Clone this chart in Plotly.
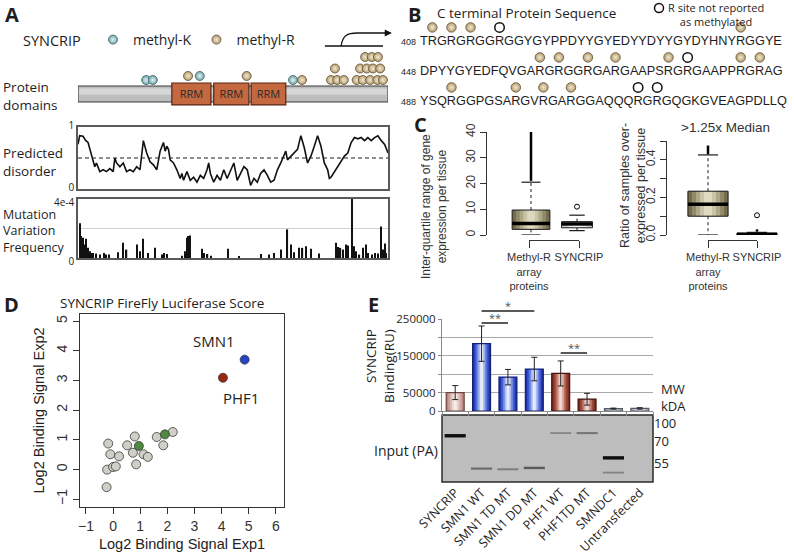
import plotly.graph_objects as go

W, H = 794, 554
def fx(p): return p / W
def fy(p): return 1 - p / H
def dom_x(a, b): return [fx(a), fx(b)]
def dom_y(top, bottom): return [fy(bottom), fy(top)]

SANS = "Open Sans"
ARIAL = "Liberation Sans"
INK = "#1e1e1e"

# ---------------- Panel A data ----------------
protein_length = 555
rrm_names = ["RRM", "RRM", "RRM"]
rrm_start = [168, 243, 310]
rrm_end = [238, 306, 372]
methylK_res = [122, 134, 218, 385]
methylK_level = [0, 0, 0.35, 0]
methylR_res = [197, 302, 401, 453, 464, 476, 460, 499, 510, 523, 536, 546,
               505, 517, 528, 541, 514, 526, 537]
methylR_level = [0.35, 0.35, 0, 0, 0, 0, 1, 0, 0, 0, 0, 0, 1, 1, 1, 1, 2, 2, 2]

dis_res = [0, 3, 9, 14, 18, 21, 24, 27, 30, 33, 36, 39,
           45, 51, 57, 63, 66, 69, 75, 81, 87, 93, 99, 105, 111,
           114, 117,
           123, 129, 135, 141, 147, 153,
           156, 159, 162, 165,
           171, 177, 183,
           186, 189,
           195, 201, 207, 213, 219, 225, 231,
           234,
           237, 243, 249, 255, 261, 267, 273, 279, 285, 291, 297, 303, 309, 315, 321,
           327, 333, 339, 345, 351, 357, 363, 369,
           372,
           375, 381, 387, 393, 399, 405, 411, 417, 423, 429, 435, 441, 447,
           450,
           453, 459, 465, 471, 477, 483, 489, 495, 501, 507, 513, 519, 525, 531, 537,
           543, 549, 555]
dis_val = [0.72, 0.86, 0.85, 0.78, 0.75, 0.64, 0.53, 0.44, 0.36, 0.42, 0.33, 0.28,
           0.31, 0.28, 0.33, 0.28, 0.50, 0.42, 0.36, 0.42, 0.28, 0.31, 0.28, 0.36, 0.31,
           0.53, 0.78,
           0.58, 0.44, 0.39, 0.31, 0.61, 0.75,
           0.61, 0.69, 0.64, 0.47,
           0.42, 0.31, 0.17,
           0.25, 0.14,
           0.28, 0.14, 0.19, 0.11, 0.22, 0.17, 0.31,
           0.42,
           0.25, 0.11, 0.22, 0.14, 0.31, 0.17, 0.31, 0.42, 0.14, 0.25, 0.36, 0.31, 0.06,
           0.17, 0.11, 0.25, 0.31, 0.22, 0.11, 0.14, 0.31, 0.42, 0.53,
           0.61,
           0.47, 0.53, 0.58, 0.64, 0.86, 0.67, 0.42, 0.53, 0.69, 0.86, 0.69, 0.42, 0.31,
           0.17,
           0.19, 0.28, 0.36, 0.44, 0.53, 0.58, 0.75, 0.83, 0.81, 0.83, 0.78, 0.83, 0.78,
           0.83, 0.86, 0.78, 0.72, 0.58]
disorder_threshold = 0.5

mut_res = [3, 6, 9, 12, 15, 18, 21, 24, 27, 33, 39, 46, 50, 56, 72, 81, 87, 106, 111, 117,
           126, 138, 150, 154, 159, 186, 192, 195, 198, 201, 222, 226, 232, 238, 268, 288,
           328, 342, 351, 363, 375, 381, 387, 395, 402, 408, 417, 432, 462, 465, 470, 474,
           480, 483, 490, 494, 498, 504, 510, 516, 519, 526, 532, 537, 543, 546, 549, 552]
mut_freq_e4 = [2.35, 1.49, 1.37, 0.91, 1.30, 0.69, 0.46, 0.34, 0.34, 0.30, 0.23, 0.34, 0.23,
               0.23, 0.39, 1.03, 0.57, 0.91, 0.46, 1.30, 0.34, 0.69, 0.23, 0.34, 0.27, 0.16,
               0.46, 1.37, 1.49, 1.53, 0.62, 0.34, 0.27, 0.16, 0.62, 0.11, 0.27, 0.23, 0.34,
               0.57, 1.94, 0.91, 0.39, 0.69, 0.69, 0.80, 0.62, 0.30, 1.03, 0.75, 0.69, 0.57,
               0.91, 0.85, 4.0, 0.80, 0.46, 0.23, 0.69, 0.91, 0.34, 0.23, 0.34, 0.30, 2.13,
               0.57, 0.98, 0.34]

# ---------------- Panel B data ----------------
seq_lines = ["TRGRGRGGRGGYGYPPDYYGYEDYYDYYGYDYHNYRGGYE",
             "DPYYGYEDFQVGARGRGGRGARGAAPSRGRGAAPPRGRAG",
             "YSQRGGPGSARGVRGARGGAQQQRGRGQGKGVEAGPDLLQ"]
seq_start = [408, 448, 488]
seq_methylated = [[2, 4, 6, 36], [14, 16, 19, 22, 28, 36, 38], [4, 11, 14, 17]]
seq_unreported = [[9], [30], [24, 26]]

# ---------------- Panel C data ----------------
c_groups = ["Methyl-R<br>array<br>proteins", "SYNCRIP"]
iqr_q1 = [2.2, 2.8]
iqr_med = [4.5, 4.3]
iqr_q3 = [9.7, 5.2]
iqr_lo = [0.0, 1.7]
iqr_hi = [20.5, 7.7]
iqr_outlier_span = [(21.0, 40.0), None]
iqr_outlier_pts = [[], [11.0]]
ratio_q1 = [0.100, 0.000]
ratio_med = [0.164, 0.004]
ratio_q3 = [0.233, 0.009]
ratio_lo = [0.000, 0.000]
ratio_hi = [0.426, 0.014]
ratio_outlier_span = [(0.43, 0.476), (0.018, 0.030)]
ratio_outlier_pts = [[], [0.105]]

# ---------------- Panel D data ----------------
d_gray_x = [-0.18, -0.10, 0.22, -0.22, 0.0, 0.10, -0.24, 0.52, 0.80, 0.73, 0.85, 1.12,
            1.28, 1.61, 1.85, 2.20]
d_gray_y = [0.87, 0.51, 0.44, -0.01, 0.08, 0.10, -0.60, 0.81, 1.11, 0.56, 0.17, 0.51,
            0.42, 1.09, 0.81, 1.26]
d_green_x = [0.95, 1.91]
d_green_y = [0.79, 1.18]
d_named = ["SMN1", "PHF1"]
d_named_x = [4.85, 4.05]
d_named_y = [3.70, 3.09]

# ---------------- Panel E data ----------------
lanes = ["SYNCRIP", "SMN1 WT", "SMN1 TD MT", "SMN1 DD MT", "PHF1 WT", "PHF1TD MT",
         "SMNDC1", "Untransfected"]
binding_mean = [50000, 183000, 92000, 114000, 102000, 32000, 6400, 7000]
binding_err = [19000, 48000, 21000, 32000, 34000, 16000, 1500, 2000]
lane_group = ["pink", "blue", "blue", "blue", "brown", "brown", "gray", "gray"]
sig_pairs = [(1, 2, "**"), (1, 3, "*"), (4, 5, "**")]
mw_labels = ["100", "70", "55"]
mw_pos = [0.12, 0.39, 0.73]
band_lane = [0, 1, 2, 3, 4, 5, 6, 6]
band_pos = [0.31, 0.80, 0.81, 0.79, 0.27, 0.27, 0.64, 0.86]
band_strength = [1.0, 0.45, 0.35, 0.55, 0.3, 0.4, 1.0, 0.3]

fig = go.Figure()
NOH = dict(showlegend=False, hoverinfo="skip")

# ======== Panel A ========
PROT_Y = -1.217
fig.add_trace(go.Bar(orientation="h", y=[PROT_Y], x=[protein_length], base=[0], width=1.39,
                     marker=dict(color="#bdbdbd", line=dict(color="#3a3a3a", width=1)),
                     xaxis="x", yaxis="y", **NOH))
fig.add_trace(go.Bar(orientation="h", y=[PROT_Y + 0.2], x=[protein_length - 4], base=[2],
                     width=0.55, marker=dict(color="#d6d6d6", line=dict(width=0)),
                     xaxis="x", yaxis="y", **NOH))
fig.add_trace(go.Bar(orientation="h", y=[PROT_Y] * 3,
                     x=[e - s for s, e in zip(rrm_start, rrm_end)], base=rrm_start,
                     width=1.91, text=rrm_names, textposition="inside",
                     insidetextanchor="middle", constraintext="none",
                     textfont=dict(family=SANS, size=11, color="#2b2b2b"),
                     marker=dict(color="#c4683f", line=dict(color="#5a2512", width=1.2)),
                     xaxis="x", yaxis="y", **NOH))
fig.add_trace(go.Scatter(x=methylK_res, y=methylK_level, mode="markers", name="methyl-K",
                         marker=dict(size=9, color="#6fa6ab", gradient=dict(type="radial", color="#e2f2f3"),
                                     line=dict(color="#3c5e62", width=0.8)),
                         xaxis="x", yaxis="y", legend="legend", hoverinfo="skip"))
fig.add_trace(go.Scatter(x=methylR_res, y=methylR_level, mode="markers", name="methyl-R",
                         marker=dict(size=9, color="#b59d6e", gradient=dict(type="radial", color="#f1e8d4"),
                                     line=dict(color="#5e4e30", width=0.8)),
                         xaxis="x", yaxis="y", legend="legend", hoverinfo="skip"))

fig.add_trace(go.Scatter(x=dis_res, y=dis_val, mode="lines", line=dict(color="#111", width=1.6),
                         xaxis="x2", yaxis="y2", **NOH))
fig.add_trace(go.Scatter(x=[0, protein_length], y=[disorder_threshold] * 2, mode="lines",
                         line=dict(color="#222", width=1.2, dash="4px,3px"),
                         xaxis="x2", yaxis="y2", **NOH))
fig.add_trace(go.Bar(x=mut_res, y=[v * 1e-4 for v in mut_freq_e4], width=2.2,
                     marker=dict(color="#111", line=dict(width=0)),
                     xaxis="x3", yaxis="y3", **NOH))

# ======== Panel B ========
ARIAL_W = dict(T=611, R=722, G=778, Y=667, P=667, D=722, E=667, H=722, N=722, F=611,
               Q=778, V=667, A=667, S=667, K=667, L=556)
B_LEFT, B_RIGHT = 420, 790
SEQ_SPAN_PX = 367
seq_total = max(sum(ARIAL_W[c] for c in s) for s in seq_lines)
SEQ_FONT = SEQ_SPAN_PX * 1000 / seq_total

def char_center(line, idx):
    return sum(ARIAL_W[c] for c in line[:idx - 1]) + ARIAL_W[line[idx - 1]] / 2

CIRC_UP = 0.42
mx, my, ux, uy = [], [], [], []
for i, s in enumerate(seq_lines):
    for k in seq_methylated[i]:
        mx.append(char_center(s, k)); my.append(-i + CIRC_UP)
    for k in seq_unreported[i]:
        ux.append(char_center(s, k)); uy.append(-i + CIRC_UP)
fig.add_trace(go.Scatter(x=mx, y=my, mode="markers",
                         marker=dict(size=9.5, color="#b59d6e", gradient=dict(type="radial", color="#f1e8d4"),
                                     line=dict(color="#5e4e30", width=0.8)),
                         xaxis="x4", yaxis="y4", **NOH))
fig.add_trace(go.Scatter(x=ux, y=uy, mode="markers", name="R site not reported as methylated",
                         marker=dict(size=9.5, color="white", line=dict(color="#111", width=1.5)),
                         xaxis="x4", yaxis="y4", **NOH))

# ======== Panel C ========
C_EDGE = "#1a1a1a"
olive = [(1.0, "#746d4c"), (0.8, "#918a69"), (0.6, "#aea888"), (0.4, "#c9c4a6"), (0.2, "#dedabf")]
light = [(1.0, "#cdcdcd"), (0.6, "#e6e6e6"), (0.25, "#f6f6f6")]

def add_box(xa, ya, pos, w, q1, med, q3, lo, hi, layers, span, pts):
    for frac, col in layers:
        fig.add_trace(go.Bar(x=[pos], y=[q3 - q1], base=[q1], width=w * frac,
                             marker=dict(color=col, line=dict(width=0)), xaxis=xa, yaxis=ya, **NOH))
    fig.add_trace(go.Bar(x=[pos], y=[q3 - q1], base=[q1], width=w,
                         marker=dict(color="rgba(0,0,0,0)", line=dict(color=C_EDGE, width=1)),
                         xaxis=xa, yaxis=ya, **NOH))
    fig.add_trace(go.Scatter(x=[pos, pos, None, pos, pos], y=[q3, hi, None, q1, lo], mode="lines",
                             line=dict(color=C_EDGE, width=1, dash="3px,3px"),
                             xaxis=xa, yaxis=ya, **NOH))
    fig.add_trace(go.Scatter(x=[pos - w / 4, pos + w / 4, None, pos - w / 4, pos + w / 4],
                             y=[hi, hi, None, lo, lo], mode="lines",
                             line=dict(color=C_EDGE, width=1.2), xaxis=xa, yaxis=ya, **NOH))
    fig.add_trace(go.Scatter(x=[pos - w / 2, pos + w / 2], y=[med, med], mode="lines",
                             line=dict(color="#000", width=3.5), xaxis=xa, yaxis=ya, **NOH))
    if span:
        fig.add_trace(go.Scatter(x=[pos, pos], y=list(span), mode="lines",
                                 line=dict(color="#000", width=2.5), xaxis=xa, yaxis=ya, **NOH))
    if pts:
        fig.add_trace(go.Scatter(x=[pos] * len(pts), y=pts, mode="markers", cliponaxis=False,
                                 marker=dict(size=5, color="white", line=dict(color="#000", width=1)),
                                 xaxis=xa, yaxis=ya, **NOH))

iqr_width = [0.82, 0.67]
ratio_width = [0.82, 0.82]
iqr_layers = [olive, light]
ratio_layers = [olive, light]
for g in range(2):
    add_box("x5", "y5", g + 1, iqr_width[g], iqr_q1[g], iqr_med[g], iqr_q3[g], iqr_lo[g],
            iqr_hi[g], iqr_layers[g], iqr_outlier_span[g], iqr_outlier_pts[g])
    add_box("x7", "y7", g + 1, ratio_width[g], ratio_q1[g], ratio_med[g], ratio_q3[g],
            ratio_lo[g], ratio_hi[g], ratio_layers[g], ratio_outlier_span[g], ratio_outlier_pts[g])
# R-style bracket axes (group labels) need a trace to exist
fig.add_trace(go.Scatter(x=[None], y=[None], xaxis="x6", yaxis="y6", **NOH))
fig.add_trace(go.Scatter(x=[None], y=[None], xaxis="x8", yaxis="y8", **NOH))

# ======== Panel D ========
DOT_LINE = dict(color="#3a3a3a", width=0.8)
fig.add_trace(go.Scatter(x=d_gray_x, y=d_gray_y, mode="markers",
                         marker=dict(size=9, color="#cfcfc7", line=DOT_LINE), xaxis="x9", yaxis="y9", **NOH))
fig.add_trace(go.Scatter(x=d_green_x, y=d_green_y, mode="markers",
                         marker=dict(size=9, color="#4d8a3b", line=DOT_LINE), xaxis="x9", yaxis="y9", **NOH))
fig.add_trace(go.Scatter(x=d_named_x, y=d_named_y, mode="markers",
                         marker=dict(size=9, color=["#2444c8", "#9a2612"], line=DOT_LINE),
                         xaxis="x9", yaxis="y9", **NOH))

# ======== Panel E ========
BAR_W = 0.68
grad = {
    "blue": ["#1e32a6", "#3c58cf", "#6f87e2", "#adbcf2", "#e6ebfc"],
    "pink": ["#b58680", "#cba19b", "#ddbab5", "#ecd4d0", "#f8ecea"],
    "brown": ["#7a2a1d", "#984535", "#b86d60", "#d7a59c", "#f0d8d2"],
    "gray": ["#99a0b5", "#b4b9ca", "#cdd1dd", "#e1e4eb", "#f3f4f7"],
}
edge = {"blue": "#15207a", "pink": "#6e4440", "brown": "#461510", "gray": "#555a66"}
lane_idx = list(range(len(lanes)))
for k, frac in enumerate([1.0, 0.78, 0.56, 0.36, 0.16]):
    fig.add_trace(go.Bar(x=lane_idx, y=binding_mean, width=BAR_W * frac,
                         marker=dict(color=[grad[g][k] for g in lane_group], line=dict(width=0)),
                         xaxis="x10", yaxis="y10", **NOH))
fig.add_trace(go.Bar(x=lane_idx, y=binding_mean, width=BAR_W,
                     marker=dict(color="rgba(0,0,0,0)",
                                 line=dict(color=[edge[g] for g in lane_group], width=1.2)),
                     error_y=dict(type="data", array=binding_err, color="#222", thickness=1, width=3),
                     xaxis="x10", yaxis="y10", **NOH))

for ln, pos, st in zip(band_lane, band_pos, band_strength):
    lvl = int(185 - 170 * st)
    fig.add_trace(go.Scatter(x=[ln - 0.4, ln + 0.4], y=[pos, pos], mode="lines",
                             line=dict(color=f"rgb({lvl},{lvl},{lvl})", width=1.2 + 2.2 * st),
                             xaxis="x11", yaxis="y11", **NOH))
fig.add_trace(go.Scatter(x=[None], y=[None], xaxis="x11", yaxis="y11", **NOH))

# ---------------- layout ----------------
AX_OFF = dict(visible=False)
def frame(**kw):
    d = dict(showline=True, mirror=True, linecolor="#5a5a5a", linewidth=1.5, showgrid=False,
             zeroline=False, ticks="")
    d.update(kw)
    return d

def r_axis(**kw):
    d = dict(showline=True, linecolor="#333", linewidth=1, ticks="outside", ticklen=6,
             tickcolor="#333", showgrid=False, zeroline=False,
             tickfont=dict(family=ARIAL, size=12, color="#333"))
    d.update(kw)
    return d

# panel C geometry: y-axis line at left domain edge, group centres at given pixels
C1_AXIS, C1_POS, C1_RIGHT = 487, (531, 577), 600
C2_AXIS, C2_POS, C2_RIGHT = 667, (708, 757), 782
C1_BRACKET = (529, 579)
def c_range(axis_px, pos, right_px):
    step = pos[1] - pos[0]
    return [1 - (pos[0] - axis_px) / step, 2 + (right_px - pos[1]) / step]

GROUP_FONT = dict(family=ARIAL, size=11, color="#333")
TICK_SMALL = dict(family=SANS, size=10)

layout = dict(
    width=W, height=H, autosize=False, margin=dict(l=0, r=0, t=0, b=0, pad=0),
    paper_bgcolor="white", plot_bgcolor="rgba(0,0,0,0)", barmode="overlay", hovermode=False,
    font=dict(family=SANS, color=INK, size=13),
    xaxis=dict(domain=dom_x(78, 388), range=[0, protein_length], anchor="y", **AX_OFF),
    yaxis=dict(domain=dom_y(25, 110), range=[-2.609, 4.783], anchor="x", **AX_OFF),
    xaxis2=frame(domain=dom_x(78, 388), range=[0, protein_length], anchor="y2", showticklabels=False),
    yaxis2=frame(domain=dom_y(127, 189), range=[0, 1], anchor="x2", tickvals=[0, 1],
                 tickfont=TICK_SMALL, ticklabelshift=-2),
    xaxis3=frame(domain=dom_x(78, 388), range=[0, protein_length], anchor="y3", showticklabels=False),
    yaxis3=frame(domain=dom_y(199, 258), range=[0, 4e-4], anchor="x3", tickvals=[0, 2e-4, 4e-4],
                 ticktext=["0", "", "4e-4"], showgrid=True, gridcolor="#cfcfcf", gridwidth=1,
                 tickfont=TICK_SMALL, ticklabelshift=3),
    xaxis4=dict(domain=dom_x(B_LEFT, B_RIGHT), range=[0, (B_RIGHT - B_LEFT) * 1000 / SEQ_FONT],
                anchor="y4", **AX_OFF),
    yaxis4=dict(domain=dom_y(10, 110), range=[-2.333, 1.0], anchor="x4", **AX_OFF),
    xaxis5=dict(domain=dom_x(C1_AXIS, C1_RIGHT), range=c_range(C1_AXIS, C1_POS, C1_RIGHT),
                anchor="y5", **AX_OFF),
    yaxis5=r_axis(domain=dom_y(132, 235), range=[0, 40], anchor="x5",
                  tickvals=[0, 10, 20, 30, 40], tickangle=-90),
    xaxis6=r_axis(domain=dom_x(*C1_BRACKET), range=[1, 2], anchor="y6",
                  tickvals=[1, 2], ticktext=c_groups, ticklen=7, tickangle=0, tickfont=GROUP_FONT),
    yaxis6=dict(domain=dom_y(236, 240), range=[0, 1], anchor="x6", **AX_OFF),
    xaxis7=dict(domain=dom_x(C2_AXIS, C2_RIGHT), range=c_range(C2_AXIS, C2_POS, C2_RIGHT),
                anchor="y7", **AX_OFF),
    yaxis7=r_axis(domain=dom_y(141, 235), range=[0, 0.5], anchor="x7",
                  tickvals=[0, 0.1, 0.2, 0.3, 0.4, 0.5],
                  ticktext=["0.0", "", "0.2", "", "0.4", ""], tickangle=-90),
    xaxis8=r_axis(domain=dom_x(C2_POS[0], C2_POS[1]), range=[1, 2], anchor="y8",
                  tickvals=[1, 2], ticktext=c_groups, ticklen=7, tickangle=0, tickfont=GROUP_FONT),
    yaxis8=dict(domain=dom_y(236, 240), range=[0, 1], anchor="x8", **AX_OFF),
    xaxis9=r_axis(domain=dom_x(80, 284), range=[-1.22, 6.3], anchor="y9", mirror=True,
                  tickvals=list(range(-1, 7)), tickfont=dict(family=ARIAL, size=14, color="#333"),
                  title=dict(text="Log2 Binding Signal Exp1", font=dict(family=ARIAL, size=14.5, color="#222"),
                             standoff=6)),
    yaxis9=r_axis(domain=dom_y(314, 507), range=[-1.27, 5.24], anchor="x9", mirror=True,
                  tickvals=list(range(-1, 6)), tickangle=-90,
                  tickfont=dict(family=ARIAL, size=14, color="#333"),
                  title=dict(text="Log2 Binding Signal Exp2", font=dict(family=ARIAL, size=14.5, color="#222"),
                             standoff=6)),
    xaxis10=dict(domain=dom_x(442, 653), range=[-0.5, 7.5], anchor="y10", showline=True,
                 linecolor="#8a8a8a", ticks="outside", ticklen=4, tickcolor="#8a8a8a",
                 tickvals=[i - 0.5 for i in range(len(lanes) + 1)], showticklabels=False,
                 showgrid=False, zeroline=False),
    yaxis10=dict(domain=dom_y(319, 411), range=[0, 250000], anchor="x10", showline=True,
                 linecolor="#8a8a8a", ticks="outside", ticklen=3, tickcolor="#8a8a8a",
                 tickvals=[0, 50000, 100000, 150000, 200000, 250000],
                 ticktext=["0", "50000", "", "150000", "", "250000"],
                 showgrid=True, gridcolor="#a9a9a9", gridwidth=1, zeroline=False,
                 tickfont=dict(family=SANS, size=11.5)),
    xaxis11=dict(domain=dom_x(442, 653), range=[-0.5, 7.5], anchor="y11", tickvals=lane_idx,
                 ticktext=lanes, tickangle=-45, ticks="", showline=False, showgrid=False,
                 zeroline=False, tickfont=dict(family=SANS, size=12.5)),
    yaxis11=dict(domain=dom_y(415, 482), range=[1, 0], anchor="x11", side="right",
                 tickvals=mw_pos, ticktext=mw_labels, ticks="", showline=False, showgrid=False,
                 zeroline=False, tickfont=dict(family=SANS, size=13)),
    legend=dict(x=fx(93), y=fy(40), xanchor="left", yanchor="middle", orientation="h",
                font=dict(family=SANS, size=14, color=INK), bgcolor="rgba(0,0,0,0)",
                borderwidth=0),
)

def ann(text, x, y, size=13, family=SANS, xanchor="left", yanchor="middle", **kw):
    d = dict(text=text, x=fx(x), y=fy(y), xref="paper", yref="paper", showarrow=False,
             xanchor=xanchor, yanchor=yanchor, font=dict(family=family, size=size, color=kw.pop("color", INK)))
    d.update(kw)
    return d

annotations = [
    ann("<b>A</b>", 12, 14, 20, xanchor="center"),
    ann("<b>B</b>", 414, 14, 20, xanchor="center"),
    ann("<b>C</b>", 420, 125, 20, xanchor="center"),
    ann("<b>D</b>", 11, 304, 20, xanchor="center"),
    ann("<b>E</b>", 373, 304, 20, xanchor="center"),
    ann("SYNCRIP", 52, 40, 14.5, xanchor="center"),
    ann("Protein<br>domains", 1, 96, 13.5, align="left"),
    ann("Predicted<br>disorder", 1, 162, 13.5, align="left"),
    ann("Mutation<br>Variation<br>Frequency", 1, 231, 12.5, align="left"),
    ann("C terminal Protein Sequence", 435, 13, 13.5),
    ann("R site not reported<br>as methylated", 666, 14.5, 11, align="center"),
    ann("Inter-quartile range of gene<br>expression per tissue", 434, 207, 12, ARIAL,
        xanchor="center", textangle=-90, color="#333"),
    ann("Ratio of samples over-<br>expressed per tissue", 633, 186, 12.5, ARIAL,
        xanchor="center", textangle=-90, color="#333"),
    ann(">1.25x Median", 725, 127, 13.5, ARIAL, xanchor="center", color="#333"),
    ann("SYNCRIP FireFly Luciferase Score", 58, 303, 13.5),
    ann("SYNCRIP<br>Binding(RU)", 380, 366, 13.5, xanchor="center", textangle=-90, align="right"),
    ann("Input (PA)", 372, 450, 14),
    ann("MW<br>kDA", 659, 397, 13, align="left"),
]
for i, s in enumerate(seq_lines):
    annotations.append(dict(text=s, x=0, y=-i, xref="x4", yref="y4", showarrow=False,
                            xanchor="left", yanchor="middle", borderpad=0, borderwidth=0,
                            font=dict(family=ARIAL, size=SEQ_FONT, color=INK)))
    annotations.append(dict(text=str(seq_start[i]), x=0, y=-i - 0.05, xref="x4", yref="y4",
                            showarrow=False, xanchor="right", yanchor="middle", xshift=-2,
                            font=dict(family=ARIAL, size=9, color=INK)))
for name, x, y, dxs, dys in zip(d_named, d_named_x, d_named_y, [-31, 18], [19, -20]):
    annotations.append(dict(text=name, x=x, y=y, xref="x9", yref="y9", showarrow=False,
                            xshift=dxs, yshift=dys, font=dict(family=SANS, size=15, color=INK)))
sig_line_px = [323, 311, 353]
shapes = []
for (a, b, lab), py in zip(sig_pairs, sig_line_px):
    shapes.append(dict(type="line", xref="x10", yref="paper", x0=a, x1=b, y0=fy(py), y1=fy(py),
                       line=dict(color="#222", width=1.5)))
    annotations.append(dict(text=lab, x=(a + b) / 2, y=fy(py - 5.5), xref="x10", yref="paper",
                            showarrow=False, yanchor="middle", font=dict(size=11, color="#555")))
# key symbol for the "R site not reported" note in panel B
KEY_CX, KEY_CY, KEY_R = 659, 8, 4.5
shapes.append(dict(type="circle", xref="paper", yref="paper",
                   x0=fx(KEY_CX - KEY_R), x1=fx(KEY_CX + KEY_R), y0=fy(KEY_CY + KEY_R), y1=fy(KEY_CY - KEY_R),
                   fillcolor="white", line=dict(color="#111", width=1.5)))
# C-terminal arrow in the domain cartoon (residue units / stacking levels)
ARROW_LOW, ARROW_HIGH = 2.957, 4.087
shapes.append(dict(type="line", xref="x", yref="y", x0=442, x1=546, y0=ARROW_LOW, y1=ARROW_LOW,
                   line=dict(color="#111", width=1.3)))
shapes.append(dict(type="path", xref="x", yref="y",
                   path=f"M 471,{ARROW_LOW} C 474,{ARROW_HIGH - 0.2} 482,{ARROW_HIGH} 500,{ARROW_HIGH} L 548,{ARROW_HIGH}",
                   line=dict(color="#111", width=1.3)))
annotations.append(dict(x=562, y=ARROW_HIGH, ax=545, ay=ARROW_HIGH, xref="x", yref="y",
                        axref="x", ayref="y", text="", showarrow=True, arrowhead=2,
                        arrowsize=1.1, arrowwidth=1.3, arrowcolor="#111", standoff=0))
shapes.append(dict(type="rect", xref="x11 domain", yref="y11 domain", x0=0, x1=1, y0=0, y1=1,
                   fillcolor="#bdbdbd", line=dict(color="#2a2a2a", width=1.5), layer="below"))

layout["annotations"] = annotations
layout["shapes"] = shapes
fig.update_layout(**layout)
# fixed pixel layout: never let axes push the margins
fig.update_xaxes(automargin=False)
fig.update_yaxes(automargin=False)

fig.write_html("out.html", config={"displayModeBar": False},
               post_script="document.body.style.margin='0';document.body.style.overflow='hidden';")
